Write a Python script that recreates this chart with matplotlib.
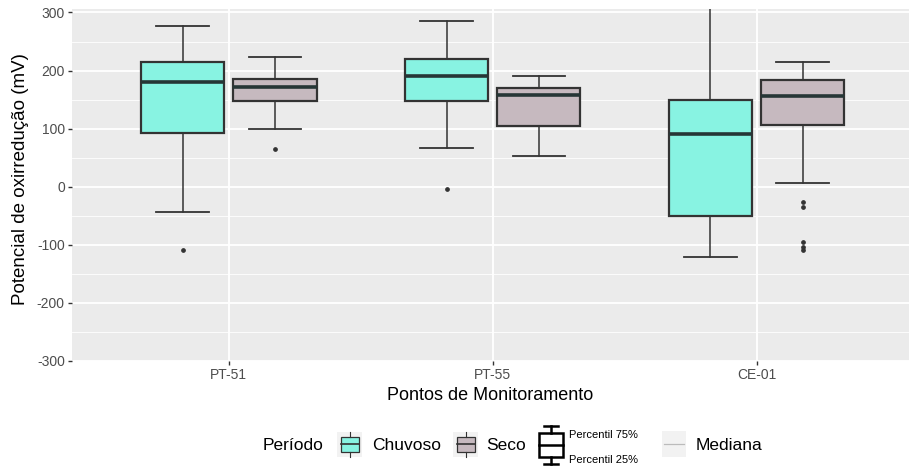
import matplotlib
matplotlib.use("Agg")
import matplotlib.pyplot as plt
from matplotlib.patches import Rectangle
from matplotlib.lines import Line2D

plt.rcParams["font.family"] = ["Liberation Sans", "DejaVu Sans"]

# Monitoring points and periods
pontos = ["PT-51", "PT-55", "CE-01"]
periodos = ["Chuvoso", "Seco"]

# Box statistics (mV) per period, one value per monitoring point
chuvoso_whislo = [-44, 67, -122]
chuvoso_q1 = [93, 147, -51]
chuvoso_med = [180, 190, 90]
chuvoso_q3 = [215, 220, 149]
chuvoso_whishi = [277, 286, 330]
chuvoso_fliers = [[-110], [-4], []]

seco_whislo = [100, 52, 7]
seco_q1 = [147, 105, 106]
seco_med = [171, 158, 156]
seco_q3 = [186, 170, 184]
seco_whishi = [223, 190, 215]
seco_fliers = [[65], [], [-27, -35, -95, -104, -110]]

yticks = [-300, -200, -100, 0, 100, 200, 300]

colors = {"Chuvoso": "#88F3E2", "Seco": "#C6B9BF"}
edge = "#333333"

W, H = 909, 469
fig = plt.figure(figsize=(W / 100, H / 100), dpi=100)
left, right, top, bottom = 71.7, 909.0, 9.0, 360.7
ax = fig.add_axes([left / W, 1 - bottom / H, (right - left) / W, (bottom - top) / H])
ax.set_facecolor("#EBEBEB")
for s in ax.spines.values():
    s.set_visible(False)

# grid
for y in yticks:
    ax.axhline(y, color="white", lw=1.3, zorder=0)
for y in [-250, -150, -50, 50, 150, 250]:
    ax.axhline(y, color="white", lw=0.6, zorder=0)
for i in range(len(pontos)):
    ax.axvline(i + 1, color="white", lw=1.3, zorder=0)


def stats(whislo, q1, med, q3, whishi, fliers):
    return [dict(whislo=a, q1=b, med=c, q3=d, whishi=e, fliers=f)
            for a, b, c, d, e, f in zip(whislo, q1, med, q3, whishi, fliers)]


groups = {
    "Chuvoso": stats(chuvoso_whislo, chuvoso_q1, chuvoso_med, chuvoso_q3, chuvoso_whishi, chuvoso_fliers),
    "Seco": stats(seco_whislo, seco_q1, seco_med, seco_q3, seco_whishi, seco_fliers),
}
offsets = {"Chuvoso": -0.175, "Seco": 0.175}
bw = 0.315
for per in periodos:
    pos = [i + 1 + offsets[per] for i in range(len(pontos))]
    ax.bxp(groups[per], positions=pos, widths=bw, capwidths=0.2, patch_artist=True,
           boxprops=dict(facecolor=colors[per], edgecolor=edge, lw=1.6),
           medianprops=dict(color="#263636", lw=2.6, solid_capstyle="butt"),
           whiskerprops=dict(color=edge, lw=1.1),
           capprops=dict(color=edge, lw=1.3),
           flierprops=dict(marker="o", markersize=2.4, markerfacecolor=edge,
                           markeredgecolor=edge),
           manage_ticks=False, zorder=3)

ax.set_xlim(0.405, 3.577)
ax.set_ylim(-300, 306)
ax.set_yticks(yticks)
ax.set_yticklabels([str(v) for v in yticks])
ax.set_xticks([1, 2, 3])
ax.set_xticklabels(pontos)
ax.tick_params(axis="both", length=3, width=1, color="#333333",
               labelcolor="#4D4D4D", labelsize=10, pad=2)

fig.text(490 / W, 1 - 395 / H, "Pontos de Monitoramento", ha="center", va="center",
         fontsize=13, color="black")
fig.text(21 / W, 1 - 179 / H, "Potencial de oxirredução (mV)", ha="center", va="center",
         rotation=90, fontsize=13.5, color="black")

# legend drawn in pixel coordinates
lg = fig.add_axes([0, 0, 1, 1])
lg.set_xlim(0, W)
lg.set_ylim(H, 0)
lg.axis("off")
lg.patch.set_alpha(0)

lg.text(263, 445, "Período", ha="left", va="center", fontsize=12.5, color="black")


def key_box(x0, fill):
    lg.add_patch(Rectangle((x0, 432), 25, 25, facecolor="#F2F2F2", edgecolor="none"))
    cx = x0 + 12.5
    lg.add_line(Line2D([cx, cx], [432, 437], color=edge, lw=0.8))
    lg.add_line(Line2D([cx, cx], [452, 457], color=edge, lw=0.8))
    lg.add_patch(Rectangle((x0 + 3.5, 437), 18, 15, facecolor=fill, edgecolor=edge, lw=0.9))
    lg.add_line(Line2D([x0 + 3.5, x0 + 21.5], [444.5, 444.5], color=edge, lw=1.2))


key_box(337, colors["Chuvoso"])
lg.text(372, 445, "Chuvoso", ha="left", va="center", fontsize=12.5, color="black")
key_box(453, colors["Seco"])
lg.text(486, 445, "Seco", ha="left", va="center", fontsize=12.5, color="black")

# percentile glyph
lg.add_patch(Rectangle((539, 432.7), 24, 24, facecolor="white", edgecolor="black", lw=1.8))
lg.add_line(Line2D([539, 563], [445, 445], color="black", lw=1.8))
lg.add_line(Line2D([551, 551], [426, 432.7], color="black", lw=1.8))
lg.add_line(Line2D([551, 551], [456.7, 464], color="black", lw=1.8))
lg.add_line(Line2D([544, 558], [426, 426], color="black", lw=1.8))
lg.add_line(Line2D([544, 558], [464, 464], color="black", lw=1.8))
lg.text(569, 435, "Percentil 75%", ha="left", va="center", fontsize=8, color="black")
lg.text(569, 460, "Percentil 25%", ha="left", va="center", fontsize=8, color="black")

# median key
lg.add_patch(Rectangle((662, 431), 24, 26, facecolor="#F2F2F2", edgecolor="none"))
lg.add_line(Line2D([664, 684], [444.5, 444.5], color="#BBBBBB", lw=0.9))
lg.text(696, 445, "Mediana", ha="left", va="center", fontsize=12.5, color="black")

fig.savefig("out.png", dpi=100)
